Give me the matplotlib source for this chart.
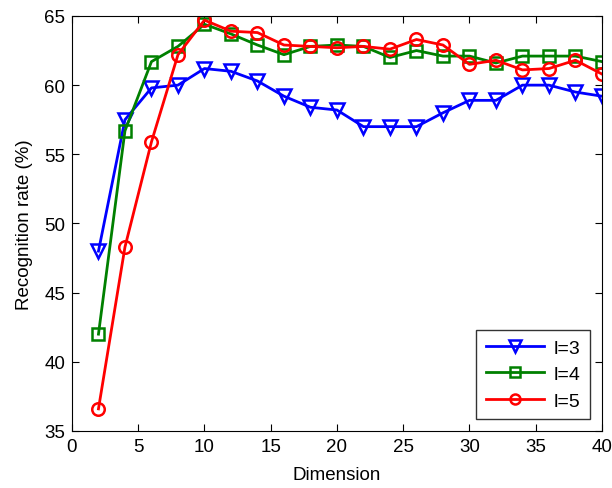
import numpy as np
import matplotlib
matplotlib.use("Agg")
import matplotlib.pyplot as plt

plt.rcParams["font.family"] = ["Liberation Sans", "DejaVu Sans"]

# -----------
# Chart data
dims = [2, 4, 6, 8, 10, 12, 14, 16, 18, 20, 22, 24, 26, 28, 30, 32, 34, 36, 38, 40]

rate_l3 = [48.0, 57.5, 59.8, 60.0, 61.2, 61.0, 60.3, 59.2, 58.4, 58.2,
           57.0, 57.0, 57.0, 58.0, 58.9, 58.9, 60.0, 60.0, 59.5, 59.2]
rate_l4 = [42.0, 56.7, 61.7, 62.8, 64.4, 63.7, 62.9, 62.2, 62.8, 62.9,
           62.8, 62.0, 62.5, 62.1, 62.1, 61.6, 62.1, 62.1, 62.1, 61.7]
rate_l5 = [36.6, 48.3, 55.9, 62.2, 64.7, 63.9, 63.8, 62.9, 62.8, 62.7,
           62.8, 62.6, 63.3, 62.9, 61.5, 61.8, 61.1, 61.2, 61.8, 60.8]

labels = ["l=3", "l=4", "l=5"]


# ---------
# Plot it
fig = plt.figure(figsize=(6.12, 4.89), dpi=100)
ax = fig.add_axes([0.1176, 0.1166, 0.866, 0.8487])

ax.plot(dims, rate_l3, color="#0000ff", lw=2, marker="v", ms=10,
        mfc="none", mew=1.8, label=labels[0])
ax.plot(dims, rate_l4, color="#008000", lw=2, marker="s", ms=9,
        mfc="none", mew=1.8, label=labels[1])
ax.plot(dims, rate_l5, color="#ff0000", lw=2, marker="o", ms=9,
        mfc="none", mew=1.8, label=labels[2])

ax.set_xlim(0, 40)
ax.set_ylim(35, 65)
ax.set_xticks(np.arange(0, 41, 5))
ax.set_yticks(np.arange(35, 66, 5))
ax.tick_params(direction="in", labelsize=13.5, length=5, top=True, right=True, pad=5)
ax.set_xlabel("Dimension", fontsize=13.5, labelpad=8)
ax.set_ylabel("Recognition rate (%)", fontsize=13.5, labelpad=8)

leg = ax.legend(loc="lower right", fontsize=14, fancybox=False,
                edgecolor="black", handlelength=3.0, borderpad=0.5,
                labelspacing=0.45, handletextpad=0.5, borderaxespad=0.6,
                markerscale=0.8)
leg.get_frame().set_linewidth(1.0)

fig.savefig("out.png", dpi=100)
